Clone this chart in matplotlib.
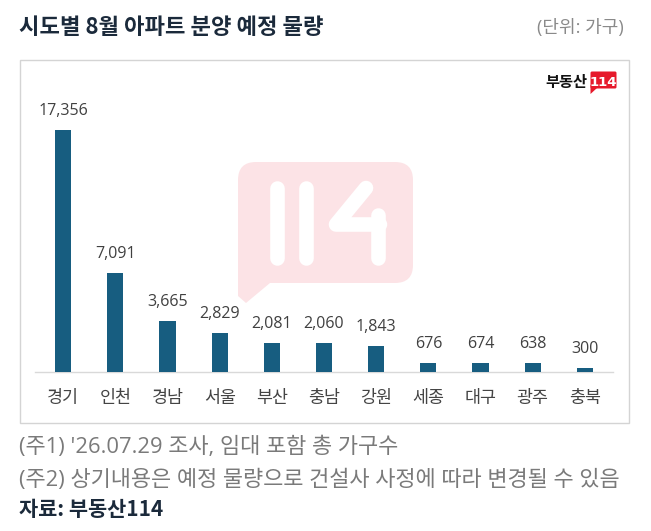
import numpy as np
import matplotlib.pyplot as plt
from matplotlib.patches import Rectangle, FancyBboxPatch, Polygon

# ---------------- data ----------------
regions = ["경기", "인천", "경남", "서울", "부산", "충남", "강원", "세종", "대구", "광주", "충북"]
units = [17356, 7091, 3665, 2829, 2081, 2060, 1843, 676, 674, 638, 300]

title = "시도별 8월 아파트 분양 예정 물량"
unit_note = "(단위: 가구)"
note1 = "(주1) '26.07.29 조사, 임대 포함 총 가구수"
note2 = "(주2) 상기내용은 예정 물량으로 건설사 사정에 따라 변경될 수 있음"
source = "자료: 부동산114"

KR = ["Noto Sans CJK KR", "DejaVu Sans"]
MIX = ["Open Sans", "Noto Sans CJK KR", "DejaVu Sans"]
bar_col = "#175d80"
navy = "#1b2a3b"

fig = plt.figure(figsize=(6.51, 5.31), dpi=100)

# background layer in pixel coordinates
bg = fig.add_axes([0, 0, 1, 1])
bg.set_xlim(0, 651)
bg.set_ylim(531, 0)
bg.axis("off")

bg.add_patch(Rectangle((19.5, 59.5), 609.5, 363.5, fill=False, ec="#d4d4d4", lw=1))

# watermark bubble
pink = "#fce3e6"
bg.add_patch(FancyBboxPatch((256, 180), 139, 85, boxstyle="round,pad=18", fc=pink, ec="none"))
bg.add_patch(Polygon([(238, 255), (238, 296), (246, 303), (270, 283)], closed=True, fc=pink, ec="none"))
wm = dict(color="white", lw=10.5, solid_capstyle="round", solid_joinstyle="round")
bg.plot([277, 277], [187.5, 257.5], **wm)
bg.plot([306, 306], [187.5, 257.5], **wm)
bg.plot([366, 336, 380], [188, 224.5, 224.5], **wm)
bg.plot([378, 378], [215, 257.5], **wm)

# logo
bg.text(587, 87, "부동산", family=KR, fontsize=11, fontweight="bold", color="#111111",
        ha="right", va="baseline")
red = "#e6192b"
bg.add_patch(FancyBboxPatch((592, 73), 23, 14, boxstyle="round,pad=1.5", fc=red, ec="none"))
bg.add_patch(Polygon([(590.5, 85), (590.5, 94), (597, 88)], closed=True, fc=red, ec="none"))
bg.text(603.5, 86, "114", family=["DejaVu Sans"], fontsize=9.5, fontweight="bold", color="white",
        ha="center", va="baseline")

# titles and notes
bg.text(19, 34, title, family=KR, fontsize=16, fontweight="bold", color=navy, va="baseline")
bg.text(624, 33, unit_note, family=MIX, fontsize=13, color="#8a8a8a", ha="right", va="baseline")
bg.text(19, 453, note1, family=MIX, fontsize=15.8, color="#7a7a7a", va="baseline")
bg.text(19, 486, note2, family=MIX, fontsize=15.8, color="#7a7a7a", va="baseline")
bg.text(19, 516, source, family=KR, fontsize=15, fontweight="bold", color=navy, va="baseline")

# ---------------- bar chart ----------------
ax = fig.add_axes([35 / 651, (531 - 372) / 531, 578 / 651, 272 / 531])
ax.patch.set_alpha(0)
x = np.arange(len(regions))
ax.bar(x, units, width=0.31, color=bar_col, zorder=3)
ax.set_xlim(-0.54, 10.54)
ax.set_ylim(0, 17356 * 272 / 242)

for i, v in zip(x, units):
    ax.annotate(f"{v:,}", (i, v), xytext=(0, 15), textcoords="offset pixels",
                ha="center", va="baseline", fontsize=11.5, color="#404040", family=MIX)

ax.set_xticks(x, regions, family=KR, fontsize=12.5, color="#444444")
ax.tick_params(axis="x", length=0, pad=12)
ax.set_yticks([])
for s in ["top", "left", "right"]:
    ax.spines[s].set_visible(False)
ax.spines["bottom"].set_color("#d9d9d9")
ax.spines["bottom"].set_linewidth(1)

fig.savefig("out.png", dpi=100)
